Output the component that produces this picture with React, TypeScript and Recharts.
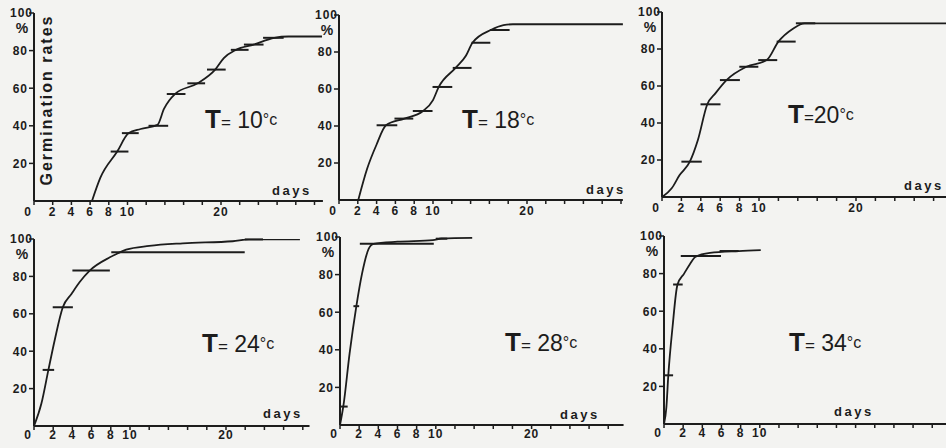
import React from 'react';
import { ComposedChart, Line, Scatter, XAxis, YAxis, ErrorBar } from 'recharts';

const INK = '#1c1c1c';
const FONT = '"Liberation Sans", Arial, Helvetica, sans-serif';

// ---- T = 10 °C ----
const curveDays10 = [6.2, 7.1, 8.9, 10.1, 11.4, 13.2, 13.9, 15.1, 17.5, 19.4, 20.3, 21.6, 23.5, 25.7, 27.2, 30.8];
const curveRates10 = [0, 12.4, 26.3, 36, 38.3, 40.5, 49, 57, 62.6, 70, 76, 80.4, 83.2, 86.8, 87.5, 87.5];
const barDays10 = [9.15, 10.3, 13.3, 15.2, 17.35, 19.5, 22.0, 23.5, 25.6];
const barRates10 = [26.3, 36.1, 40, 56.9, 62.6, 69.9, 80.4, 83.2, 86.8];
const barHalf10 = [0.95, 0.9, 1.05, 1.0, 0.95, 1.0, 0.95, 1.05, 1.1];

// ---- T = 18 °C ----
const curveDays18 = [2.05, 3, 4, 5.0, 6.95, 8.9, 10.0, 10.6, 12.4, 13.5, 14.2, 16.2, 17.5, 18.5, 30.2];
const curveRates18 = [0, 17, 30, 40.4, 44, 48, 54, 61, 71.4, 78, 85, 92, 94.5, 95, 95];
const barDays18 = [5.1, 6.9, 8.9, 11.0, 13.1, 15.1, 17.1];
const barRates18 = [40.4, 44, 48.1, 61.1, 71.4, 85, 91.9];
const barHalf18 = [1.1, 1.0, 1.05, 1.05, 1.0, 1.0, 1.05];

// ---- T = 20 °C ----
const curveDays20 = [0, 1, 1.8, 2.87, 3.7, 4.66, 5.5, 6.65, 8.7, 10.8, 12.0, 13.5, 14.7, 29.6];
const curveRates20 = [0, 4.7, 11.7, 19.1, 30.8, 50, 56, 63.2, 70.4, 74, 84, 91, 93.9, 93.9];
const barDays20 = [3.05, 5.0, 7.0, 8.95, 10.9, 12.8, 14.8];
const barRates20 = [19.1, 50.1, 63.2, 70.4, 74, 84, 93.9];
const barHalf20 = [1.05, 1.03, 1.03, 0.98, 0.98, 0.98, 1.0];

// ---- T = 24 °C ----
const curveDays24 = [0, 0.77, 1.5, 2.16, 3.0, 3.9, 4.76, 5.8, 7.9, 8.6, 9.6, 12, 15.5, 20.7, 22.4, 27.7];
const curveRates24 = [0, 12, 30, 46, 63.5, 70.6, 77, 83.1, 90.2, 92, 94.3, 96.3, 97.7, 98.8, 99.8, 99.8];
const barDays24 = [1.5, 3.0, 5.95, 15.0, 22.9];
const barRates24 = [30, 63.5, 83.1, 92.9, 99.8];
const barHalf24 = [0.6, 1.05, 1.95, 6.95, 0.95];

// ---- T = 28 °C ----
const curveDays28 = [0, 0.35, 1.0, 1.7, 2.3, 3.0, 3.5, 6, 9.7, 10.6, 13.8];
const curveRates28 = [0, 10, 38, 63, 80.5, 93.8, 96.4, 97.5, 98.3, 99.2, 99.5];
const barDays28 = [0.4, 1.7, 5.93, 10.6];
const barRates28 = [9.8, 63.2, 96.4, 99.1];
const barHalf28 = [0.4, 0.3, 3.86, 0.6];

// ---- T = 34 °C ----
const curveDays34 = [0, 0.25, 0.45, 0.9, 1.4, 2.1, 2.7, 3.3, 4.8, 7.8, 10.1];
const curveRates34 = [0, 9, 25.9, 52, 74, 80, 85, 89, 91, 92, 92.5];
const barDays34 = [0.45, 1.45, 3.85, 6.8];
const barRates34 = [25.9, 74.2, 89.3, 92];
const barHalf34 = [0.5, 0.5, 2.1, 1.0];

const yTicks = [20, 40, 60, 80, 100];
const xLabelsWide = [2, 4, 6, 8, 10, 20];
const xLabelsShort = [2, 4, 6, 8, 10];

const panels = [
  { temp: '10', sep: ' ', curveDays: curveDays10, curveRates: curveRates10, barDays: barDays10, barRates: barRates10, barHalf: barHalf10, xLabels: xLabelsWide,
    geo: { ox: 33.5, px: 9.35, dmax: 30.9, y100: 12.5, y0: 200, tm: 2 }, title: { x: 205, y: 128 }, days: { x: 272, y: 195 } },
  { temp: '18', sep: ' ', curveDays: curveDays18, curveRates: curveRates18, barDays: barDays18, barRates: barRates18, barHalf: barHalf18, xLabels: xLabelsWide,
    geo: { ox: 339, px: 9.4, dmax: 30.2, y100: 15, y0: 199.5, tm: 2 }, title: { x: 462, y: 128 }, days: { x: 586, y: 194 } },
  { temp: '20', sep: '', curveDays: curveDays20, curveRates: curveRates20, barDays: barDays20, barRates: barRates20, barHalf: barHalf20, xLabels: xLabelsWide,
    geo: { ox: 661.5, px: 9.7, dmax: 29.6, y100: 12, y0: 197, tm: 2 }, title: { x: 788, y: 123 }, days: { x: 904, y: 190 } },
  { temp: '24', sep: ' ', curveDays: curveDays24, curveRates: curveRates24, barDays: barDays24, barRates: barRates24, barHalf: barHalf24, xLabels: xLabelsWide,
    geo: { ox: 34.3, px: 9.6, dmax: 28.7, y100: 239, y0: 426.3, tm: 0 }, title: { x: 202, y: 352 }, days: { x: 263, y: 418 } },
  { temp: '28', sep: ' ', curveDays: curveDays28, curveRates: curveRates28, barDays: barDays28, barRates: barRates28, barHalf: barHalf28, xLabels: xLabelsWide,
    geo: { ox: 339.5, px: 9.58, dmax: 29.6, y100: 237.3, y0: 425.7, tm: 0 }, title: { x: 505, y: 351 }, days: { x: 560, y: 419 } },
  { temp: '34', sep: ' ', curveDays: curveDays34, curveRates: curveRates34, barDays: barDays34, barRates: barRates34, barHalf: barHalf34, xLabels: xLabelsShort,
    geo: { ox: 664, px: 9.58, dmax: 29.5, y100: 235.7, y0: 423.3, tm: 0 }, title: { x: 789, y: 351 }, days: { x: 834, y: 416 } },
];

const tickText = { fontFamily: FONT, fontSize: 12, fontWeight: 700, fill: INK, letterSpacing: 1 } as const;

function XTick(props: any) {
  const { x, y, payload, labels } = props;
  const v = payload.value;
  if (v === 0) {
    return <text x={x - 6} y={y} dy="0.71em" textAnchor="middle" style={tickText}>0</text>;
  }
  if (!labels.includes(v)) return <g />;
  return <text x={x} y={y} dy="0.71em" textAnchor="middle" style={tickText}>{v}</text>;
}

function YTick(props: any) {
  const { x, y, payload } = props;
  const v = payload.value;
  if (v === 100) {
    return (
      <g>
        <text x={x + 5} y={y} dy="0.36em" textAnchor="end" style={tickText}>100</text>
        <text x={x - 6} y={y + 15} dy="0.36em" textAnchor="middle" style={{ ...tickText, fontSize: 14, letterSpacing: 0 }}>%</text>
      </g>
    );
  }
  return <text x={x} y={y} dy="0.36em" textAnchor="end" style={tickText}>{v}</text>;
}

function Panel({ p }: { p: any }) {
  const g = p.geo;
  const YW = 34, MT = 10, XH = 24, MR = 4;
  const plotW = g.dmax * g.px;
  const plotH = g.y0 - g.y100;
  const width = Math.round(YW + plotW + MR);
  const height = Math.round(MT + plotH + XH);
  const left = g.ox - YW;
  const top = g.y100 - MT;
  const curve = p.curveDays.map((d: number, i: number) => ({ x: d, y: p.curveRates[i] }));
  const bars = p.barDays.map((d: number, i: number) => ({ x: d, y: p.barRates[i], e: p.barHalf[i] }));
  const xTicks: number[] = [];
  for (let d = 0; d <= g.dmax; d += 2) xTicks.push(d);
  return (
    <div style={{ position: 'absolute', left, top }}>
      <ComposedChart width={width} height={height} margin={{ top: MT, right: width - YW - plotW, left: 0, bottom: 0 }}>
        <XAxis
          type="number"
          dataKey="x"
          domain={[0, g.dmax]}
          allowDataOverflow
          ticks={xTicks}
          interval={0}
          height={XH}
          tickSize={4}
          tickMargin={g.tm}
          axisLine={{ stroke: INK, strokeWidth: 2 }}
          tickLine={{ stroke: INK, strokeWidth: 1.5 }}
          tick={(tp: any) => <XTick {...tp} labels={p.xLabels} />}
        />
        <YAxis
          type="number"
          domain={[0, 100]}
          allowDataOverflow
          ticks={yTicks}
          interval={0}
          width={YW}
          tickSize={5}
          tickMargin={1}
          axisLine={{ stroke: INK, strokeWidth: 2 }}
          tickLine={{ stroke: INK, strokeWidth: 1.5 }}
          tick={(tp: any) => <YTick {...tp} />}
        />
        <Line data={curve} dataKey="y" type="monotone" stroke={INK} strokeWidth={1.8} dot={false} isAnimationActive={false} />
        <Scatter data={bars} dataKey="y" shape={() => <g />} isAnimationActive={false}>
          <ErrorBar dataKey="e" direction="x" width={0} stroke={INK} strokeWidth={2} />
        </Scatter>
      </ComposedChart>
    </div>
  );
}

export default function App() {
  return (
    <div style={{ position: 'absolute', left: 0, top: 0, width: 946, height: 448, overflow: 'hidden', background: '#f3f3f1' }}>
      {panels.map((p, i) => <Panel key={i} p={p} />)}
      <svg width={946} height={448} style={{ position: 'absolute', left: 0, top: 0, pointerEvents: 'none' }}>
        <text
          x={51.5}
          y={100}
          transform="rotate(-90 51.5 100)"
          textAnchor="middle"
          style={{ fontFamily: FONT, fontSize: 16, fontWeight: 700, fill: INK, letterSpacing: 2 }}
        >
          Germination rates
        </text>
        {panels.map((p, i) => (
          <g key={i}>
            <text x={p.title.x} y={p.title.y} style={{ fontFamily: FONT, fill: INK }}>
              <tspan style={{ fontSize: 26, fontWeight: 700 }}>T</tspan>
              <tspan style={{ fontSize: 17 }}>=</tspan>
              <tspan style={{ fontSize: 23 }}>{p.sep + p.temp}</tspan>
              <tspan dy={-3} style={{ fontSize: 16 }}>°c</tspan>
            </text>
            <text x={p.days.x} y={p.days.y} style={{ fontFamily: FONT, fontSize: 13, fontWeight: 700, fill: INK, letterSpacing: 2.5 }}>
              days
            </text>
          </g>
        ))}
      </svg>
    </div>
  );
}
